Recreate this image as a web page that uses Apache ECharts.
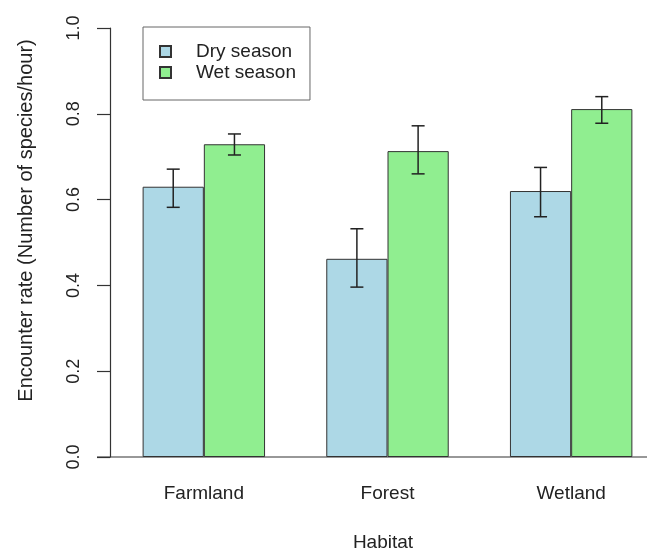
<!DOCTYPE html>
<html>
<head>
<meta charset="utf-8">
<script src="https://cdn.jsdelivr.net/npm/echarts@6/dist/echarts.min.js"></script>
<style>
  html, body { margin: 0; padding: 0; background: #fff; }
  #chart { width: 647px; height: 553px; }
</style>
</head>
<body>
<div id="chart"></div>
<script>
// Habitat categories and seasonal encounter rates (mean with error bar limits)
var categories = ['Farmland', 'Forest', 'Wetland'];
var seasonNames = ['Dry season', 'Wet season'];
var dryMean = [0.63, 0.462, 0.62];
var dryLow  = [0.582, 0.396, 0.56];
var dryHigh = [0.671, 0.532, 0.675];
var wetMean = [0.729, 0.713, 0.811];
var wetLow  = [0.704, 0.66, 0.778];
var wetHigh = [0.753, 0.772, 0.84];
var yTicks = [0, 0.2, 0.4, 0.6, 0.8, 1.0];

var FONT = 'Liberation Sans, Arial, sans-serif';
var TEXT = '#222';

function errorData(low, high) {
  return categories.map(function (c, i) { return [i, low[i], high[i]]; });
}

// whiskers drawn at the centre of a bar; side -1 = first bar of group, +1 = second
function makeErrorRenderer(side) {
  return function (params, api) {
    var idx = api.value(0);
    var lo = api.coord([idx, api.value(1)]);
    var hi = api.coord([idx, api.value(2)]);
    var band = api.size([1, 0])[0];
    var x = lo[0] + side * band / 6;
    var cap = 6.5;
    var style = { stroke: '#222', lineWidth: 1.5, fill: null };
    return {
      type: 'group',
      children: [
        { type: 'line', shape: { x1: x, y1: lo[1], x2: x, y2: hi[1] }, style: style },
        { type: 'line', shape: { x1: x - cap, y1: hi[1], x2: x + cap, y2: hi[1] }, style: style },
        { type: 'line', shape: { x1: x - cap, y1: lo[1], x2: x + cap, y2: lo[1] }, style: style }
      ]
    };
  };
}

var chart = echarts.init(document.getElementById('chart'), null, { renderer: 'canvas' });

chart.setOption({
  animation: false,
  backgroundColor: '#fff',
  textStyle: { fontFamily: FONT },
  grid: { left: 112, top: 28, width: 551, height: 429, containLabel: false, outerBoundsMode: 'none' },
  legend: {
    data: seasonNames,
    orient: 'vertical',
    left: 143,
    top: 27,
    icon: 'rect',
    itemWidth: 11,
    itemHeight: 11,
    itemGap: 2,
    padding: [15, 14, 18, 16],
    borderColor: '#666',
    borderWidth: 1,
    backgroundColor: '#fff',
    textStyle: { fontSize: 19, color: TEXT, fontFamily: FONT, padding: [0, 0, 0, 20] }
  },
  xAxis: {
    type: 'category',
    data: categories,
    axisLine: { show: false },
    axisTick: { show: false },
    axisLabel: { fontSize: 19, color: TEXT, margin: 27, fontFamily: FONT },
    name: 'Habitat',
    nameLocation: 'middle',
    nameGap: 76,
    nameTextStyle: { fontSize: 19, color: TEXT, fontFamily: FONT, padding: [0, 9, 0, 0] }
  },
  yAxis: {
    type: 'value',
    min: 0,
    max: 1,
    interval: 0.2,
    offset: 2,
    axisLine: { show: true, lineStyle: { color: '#333', width: 1.2 } },
    axisTick: { show: true, length: 13, lineStyle: { color: '#333', width: 1.2 } },
    splitLine: { show: false },
    axisLabel: {
      rotate: 90,
      margin: 27,
      fontSize: 18,
      color: TEXT,
      fontFamily: FONT,
      formatter: function (v) { return v.toFixed(1); }
    },
    name: 'Encounter rate (Number of species/hour)',
    nameLocation: 'middle',
    nameRotate: 90,
    nameGap: 74,
    nameTextStyle: { fontSize: 20, color: TEXT, fontFamily: FONT, padding: [0, 0, 0, 44] }
  },
  graphic: [
    // baseline along zero, running from the tick ends to the right edge
    { type: 'line', z: 10, shape: { x1: 97, y1: 457, x2: 647, y2: 457 }, style: { stroke: '#333', lineWidth: 1.2 } }
  ],
  series: [
    {
      name: seasonNames[0],
      type: 'bar',
      data: dryMean,
      barWidth: '33.333%',
      barGap: '0%',
      itemStyle: { color: '#ADD8E6', borderColor: '#333', borderWidth: 1 }
    },
    {
      name: seasonNames[1],
      type: 'bar',
      data: wetMean,
      barWidth: '33.333%',
      barGap: '0%',
      itemStyle: { color: '#90EE90', borderColor: '#333', borderWidth: 1 }
    },
    {
      type: 'custom',
      name: 'dry-err',
      z: 5,
      renderItem: makeErrorRenderer(-1),
      encode: { x: 0, y: [1, 2] },
      data: errorData(dryLow, dryHigh)
    },
    {
      type: 'custom',
      name: 'wet-err',
      z: 5,
      renderItem: makeErrorRenderer(1),
      encode: { x: 0, y: [1, 2] },
      data: errorData(wetLow, wetHigh)
    }
  ]
});
</script>
</body>
</html>
